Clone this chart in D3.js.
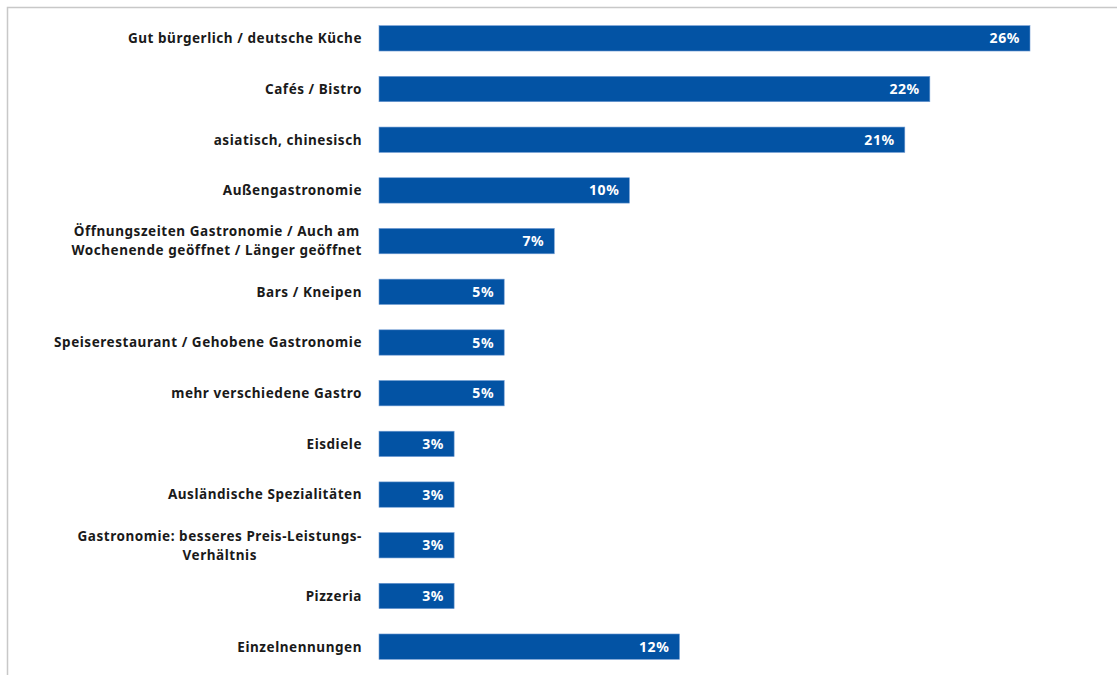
<!DOCTYPE html>
<html>
<head>
<meta charset="utf-8">
<script src="https://cdn.jsdelivr.net/npm/d3@7"></script>
<style>
  html, body { margin: 0; padding: 0; background: #ffffff; }
  svg { display: block; }
</style>
</head>
<body>
<svg id="chart" width="1117" height="675"></svg>
<script>
// Categories (lines of each label), top to bottom
const categories = [
  ["Gut bürgerlich / deutsche Küche"],
  ["Cafés / Bistro"],
  ["asiatisch, chinesisch"],
  ["Außengastronomie"],
  ["Öffnungszeiten Gastronomie / Auch am", "Wochenende geöffnet / Länger geöffnet"],
  ["Bars / Kneipen"],
  ["Speiserestaurant / Gehobene Gastronomie"],
  ["mehr verschiedene Gastro"],
  ["Eisdiele"],
  ["Ausländische Spezialitäten"],
  ["Gastronomie: besseres Preis-Leistungs-", "Verhältnis"],
  ["Pizzeria"],
  ["Einzelnennungen"]
];

// Share of mentions, percent
const values = [26, 22, 21, 10, 7, 5, 5, 5, 3, 3, 3, 3, 12];

const svg = d3.select("#chart");
const W = 1117, H = 675;

// Frame (top and left edges visible)
svg.append("path")
  .attr("d", `M7.5,${H + 2} V7.5 H${W + 2}`)
  .attr("fill", "none")
  .attr("stroke", "#c8c8c8")
  .attr("stroke-width", 1.5);

const ids = categories.map((c, i) => i);

const x = d3.scaleLinear().domain([0, 26]).range([379, 1030]);
const y = d3.scaleBand().domain(ids).range([13, 672]).paddingInner(0.5).paddingOuter(0.25);

// Bars
svg.append("g").selectAll("rect")
  .data(ids)
  .join("rect")
  .attr("x", x(0))
  .attr("y", i => y(i))
  .attr("width", i => x(values[i]) - x(0))
  .attr("height", y.bandwidth())
  .attr("fill", "#0353a4")
  .attr("stroke", "#6f9bd3")
  .attr("stroke-width", 0.6);

// Value labels inside bar ends
svg.append("g").selectAll("text")
  .data(ids)
  .join("text")
  .attr("x", i => x(values[i]) - 10)
  .attr("y", i => y(i) + y.bandwidth() / 2)
  .attr("dy", "0.36em")
  .attr("text-anchor", "end")
  .attr("fill", "#ffffff")
  .attr("font-family", "'Noto Sans', sans-serif")
  .attr("font-weight", "bold")
  .attr("font-size", 14)
  .attr("letter-spacing", 0.6)
  .text(i => values[i] + "%");

// Category labels: right-aligned block, wrapped lines centred on each other
const lineH = 19;
const labelRight = 362;
const labels = svg.append("g")
  .attr("font-family", "'Noto Sans', sans-serif")
  .attr("font-weight", "bold")
  .attr("font-size", 13.5)
  .attr("letter-spacing", 0.55)
  .attr("fill", "#1a1a1a");

ids.forEach(i => {
  const lines = categories[i];
  const cy = y(i) + y.bandwidth() / 2;
  const g = labels.append("g");
  const texts = lines.map((ln, k) => g.append("text")
    .attr("y", cy + (k - (lines.length - 1) / 2) * lineH)
    .attr("dy", "0.36em")
    .attr("text-anchor", "middle")
    .text(ln));
  const widest = d3.max(texts, t => t.node().getComputedTextLength());
  texts.forEach(t => t.attr("x", labelRight - widest / 2));
});
</script>
</body>
</html>
